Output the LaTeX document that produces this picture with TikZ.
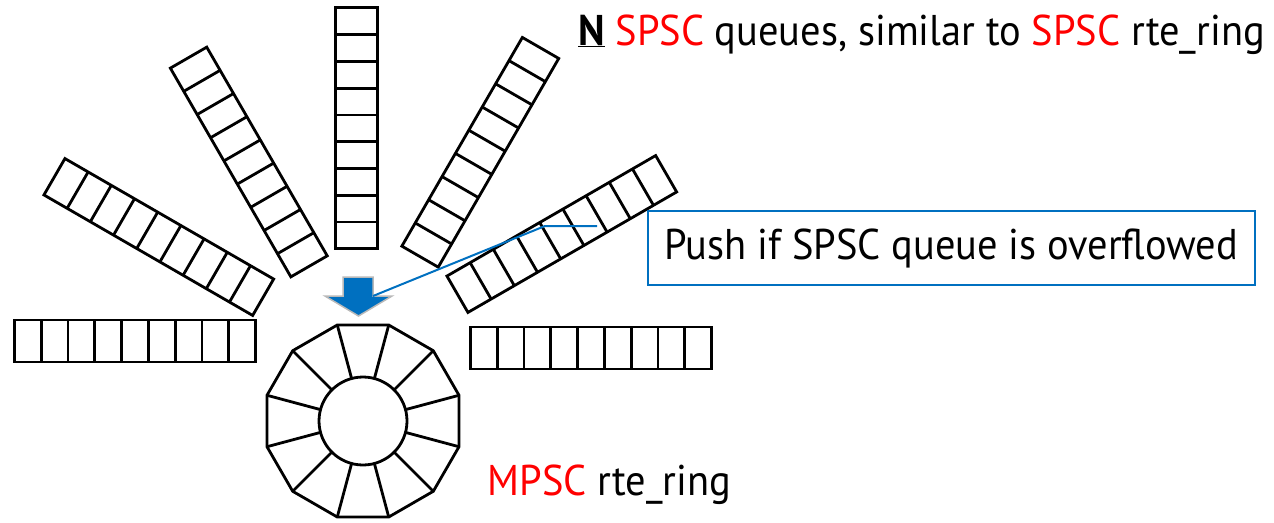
\documentclass[tikz,border=0pt]{standalone}
\usepackage{fontspec}
\setmainfont[FakeStretch=0.94]{PT Sans}
\definecolor{ringblue}{RGB}{0,112,192}
\definecolor{hlred}{RGB}{255,0,0}
\tikzset{
  cellline/.style={black,line width=2.8pt,line join=miter},
  bigtext/.style={inner sep=0pt,anchor=base west,font=\fontsize{43}{50}\selectfont},
  pushnote/.style={draw=ringblue,line width=1.5pt,inner sep=0pt,
    minimum width=607,minimum height=74,font=\fontsize{43}{50}\selectfont},
}
\begin{document}
\begin{tikzpicture}[x=1pt,y=-1pt]
    \useasboundingbox (0,0) rectangle (1274,522);

    % SPSC queues: centre x / centre y / angle
    \foreach \cx/\cy/\ang in {135/341/0, 158.8/237/-30, 248.8/162/-60,
                              356.7/128.3/90, 480.3/152.3/60, 561.8/234/30, 591/348/0} {
        \begin{scope}[shift={(\cx,\cy)},rotate=\ang]
            \draw[cellline] (-120.5,-21) rectangle (120.5,21);
            \foreach \i in {1,...,8}
                \draw[cellline] (-120.5+\i*26.78,-21) -- (-120.5+\i*26.78,21);
        \end{scope}
    }

    % MPSC ring
    \coordinate (hub) at (363,421);
    \begin{scope}[shift={(hub)}]
        \draw[cellline] (15:99.4) \foreach \a in {45,75,...,345} {-- (\a:99.4)} -- cycle;
        \draw[cellline] (0,0) circle (44);
        \foreach \a in {15,45,...,345}
            \draw[cellline] (\a:44) -- (\a:99.4);
    \end{scope}

    % Push arrow
    \filldraw[fill=ringblue,draw=gray!55,line width=1.5pt]
        (343,277) -- (373,277) -- (373,296) coordinate (neck) -- (392,296)
        -- (358.5,316) -- (325,296) -- (343,296) -- cycle;

    % Callout
    \node[pushnote] (note) at (951.5,248) {Push if SPSC queue is overflowed};
    \coordinate (pointer) at (597,226);
    \draw[ringblue,line width=2pt] (pointer) -- ++(-52,0) -- (neck);

    % Labels
    \node[bigtext] (title) at (578,45)
        {\underline{\textbf{N}} \textcolor{hlred}{SPSC} queues, similar to \textcolor{hlred}{SPSC} rte\_ring};
    \node[bigtext] (ringname) at (487.3,495) {\textcolor{hlred}{MPSC} rte\_ring};

\end{tikzpicture}
\end{document}
